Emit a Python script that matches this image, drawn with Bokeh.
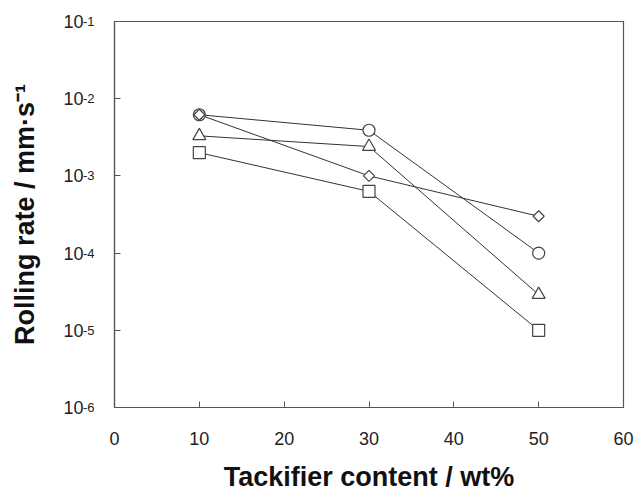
import math
from bokeh.plotting import figure
from bokeh.models import Range1d, FixedTicker, LogAxis
from bokeh.embed import file_html
from bokeh.resources import INLINE

# data
x_content = [10, 30, 50]
circle_rate = [6.2e-3, 3.9e-3, 1.0e-4]
diamond_rate = [6.2e-3, 1.0e-3, 3.0e-4]
triangle_rate = [3.3e-3, 2.4e-3, 2.9e-5]
square_rate = [2.0e-3, 6.3e-4, 1.0e-5]

x_ticks = [0, 10, 20, 30, 40, 50, 60]
y_ticks = [1e-6, 1e-5, 1e-4, 1e-3, 1e-2, 1e-1]
y_tick_base = "10"
y_tick_exponents = ["-6", "-5", "-4", "-3", "-2", "-1"]

FONT = "Liberation Sans"
AX = "#555555"
LINE = "#333333"
MK = "#444444"
TXT = "#222222"

p = figure(width=636, height=494, output_backend="svg", toolbar_location=None,
           x_range=Range1d(0, 60), y_range=Range1d(1e-6, 1e-1), y_axis_type="log",
           min_border_left=114, min_border_right=13, min_border_top=21, min_border_bottom=87)

p.grid.visible = False
p.outline_line_color = AX
p.outline_line_width = 1.2
p.background_fill_color = "white"
p.border_fill_color = "white"

xa = p.xaxis[0]
ya = p.yaxis[0]          # outer axis: "10" bases + axis title
ye = LogAxis()           # inner axis: ticks + superscript exponents

xa.ticker = FixedTicker(ticks=x_ticks)
xa.axis_line_color = AX
xa.axis_line_width = 1.2
xa.major_tick_line_color = AX
xa.major_tick_in = 6
xa.major_tick_out = 0
xa.minor_tick_line_color = None
xa.major_label_text_font = FONT
xa.major_label_text_font_size = "18px"
xa.major_label_text_color = TXT
xa.axis_label = "Tackifier content / wt%"
xa.axis_label_text_font = FONT
xa.axis_label_text_font_style = "bold"
xa.axis_label_text_font_size = "27px"
xa.axis_label_text_color = "#111111"
xa.major_label_standoff = 24
xa.axis_label_standoff = 14

ye.ticker = FixedTicker(ticks=y_ticks)
ye.major_label_overrides = {t: e for t, e in zip(y_ticks, y_tick_exponents)}
ye.axis_line_color = AX
ye.axis_line_width = 1.2
ye.major_tick_line_color = AX
ye.major_tick_in = 6
ye.major_tick_out = 0
ye.minor_tick_line_color = None
ye.major_label_text_font = FONT
ye.major_label_text_font_size = "13px"
ye.major_label_text_color = TXT
ye.major_label_text_baseline = "bottom"
ye.major_label_standoff = 20

ya.ticker = FixedTicker(ticks=y_ticks)
ya.major_label_overrides = {t: y_tick_base for t in y_ticks}
ya.axis_line_color = None
ya.major_tick_line_color = None
ya.minor_tick_line_color = None
ya.major_tick_in = 0
ya.major_tick_out = 0
ya.major_label_text_font = FONT
ya.major_label_text_font_size = "18px"
ya.major_label_text_color = TXT
ya.major_label_standoff = -4
ya.axis_label = "Rolling rate / mm·s⁻¹"
ya.axis_label_text_font = FONT
ya.axis_label_text_font_style = "bold"
ya.axis_label_text_font_size = "27px"
ya.axis_label_text_color = "#111111"
ya.axis_label_standoff = 20

p.left = [ye, ya]

for ys in (circle_rate, diamond_rate, triangle_rate, square_rate):
    p.line(x_content, ys, line_color=LINE, line_width=1)

common = dict(fill_color="white", line_color=MK, line_width=1.2)
p.scatter(x_content, square_rate, marker="square", size=12, **common)
p.scatter(x_content, triangle_rate, marker="triangle", size=13, **common)
p.scatter(x_content, circle_rate, marker="circle", size=12, **common)
p.scatter(x_content, diamond_rate, marker="square", angle=math.pi / 4, size=7.8, **common)

open("out.html", "w").write(file_html(p, INLINE))
